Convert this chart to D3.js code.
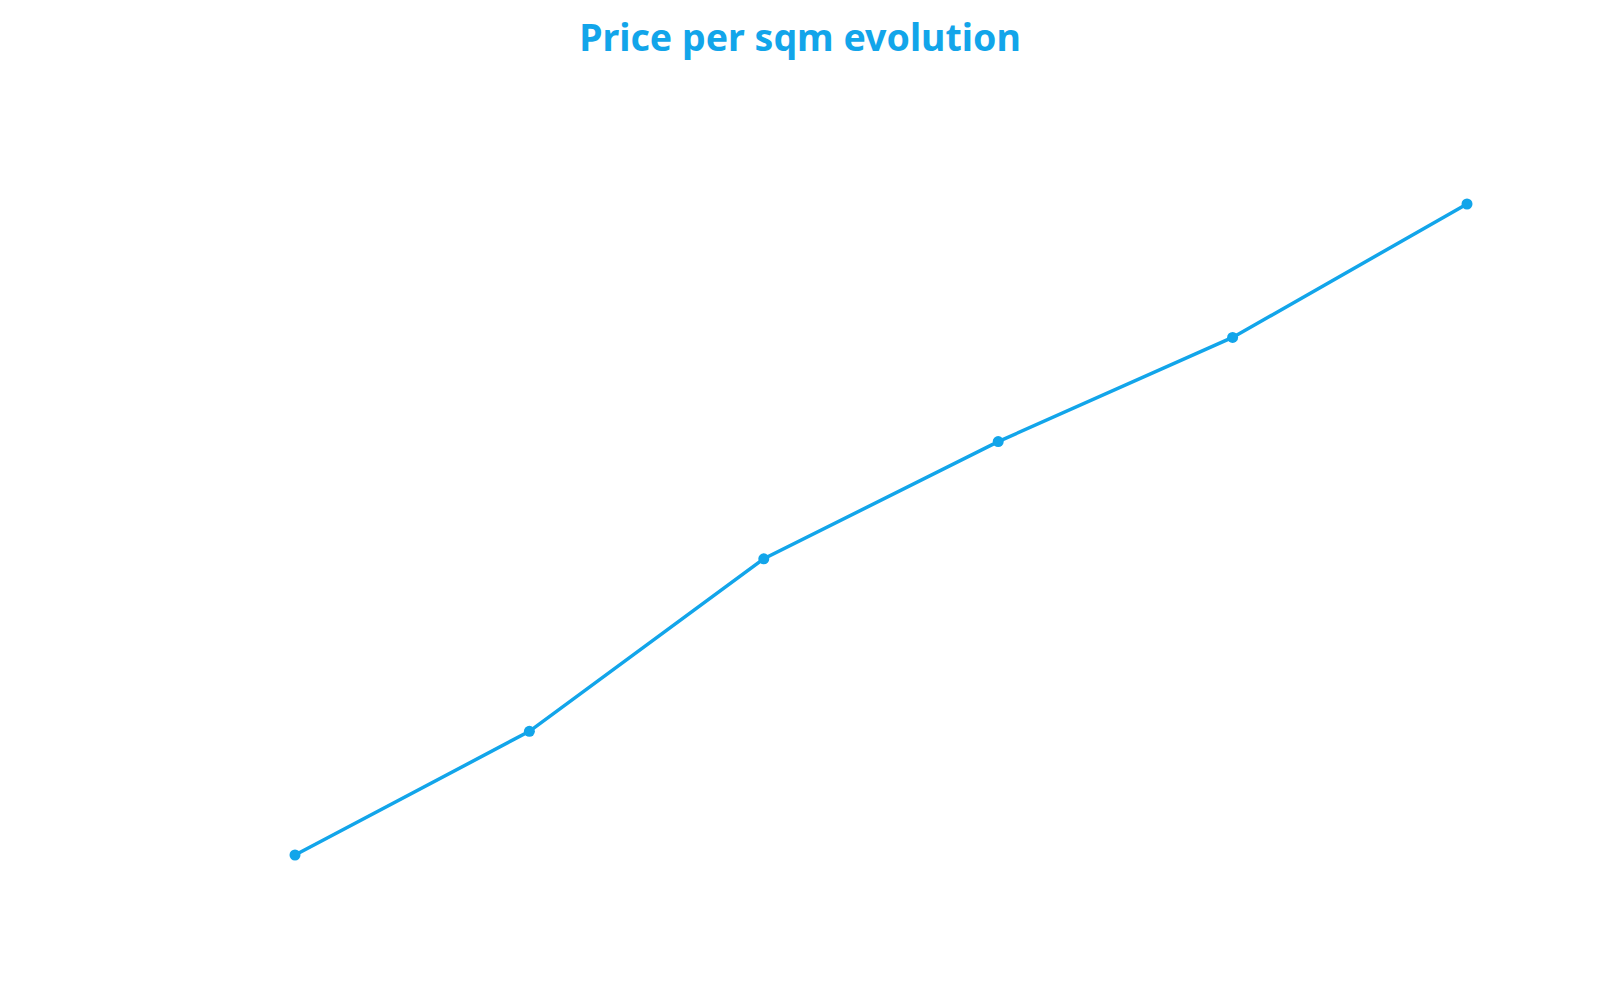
<!DOCTYPE html>
<html>
<head>
<meta charset="utf-8">
<script src="https://cdn.jsdelivr.net/npm/d3@7"></script>
<style>
  html, body { margin: 0; padding: 0; background: #fff; }
</style>
</head>
<body>
<div id="chart"></div>
<script>
'use strict';

/** Data */
const years = ["2016", "2017", "2018", "2019", "2020", "2021"];
const pricePerSqm = [1450, 1640, 1905, 2085, 2245, 2450];

/** Dimensions */
const w = 1600;
const h = 1000;
const margin = { top: 204, right: 133, bottom: 145, left: 295 };
const color = "#12a5ea";

const svg = d3.select("#chart")
    .append("svg")
    .attr("width", w)
    .attr("height", h);

/* Title */
svg.append("text")
    .attr("x", w / 2)
    .attr("y", 51)
    .attr("text-anchor", "middle")
    .style("font-family", "'Noto Sans', 'Open Sans', sans-serif")
    .style("font-weight", "bold")
    .style("font-size", "37.5px")
    .style("fill", color)
    .text("Price per sqm evolution");

/* Scales */
const xScale = d3.scalePoint()
    .domain(years)
    .range([margin.left, w - margin.right]);

const yScale = d3.scaleLinear()
    .domain([d3.min(pricePerSqm), d3.max(pricePerSqm)])
    .range([h - margin.bottom, margin.top]);

const points = years.map((y, i) => ({ year: y, value: pricePerSqm[i] }));

/* Line */
const line = d3.line()
    .x(d => xScale(d.year))
    .y(d => yScale(d.value));

svg.append("path")
    .datum(points)
    .attr("fill", "none")
    .attr("stroke", color)
    .attr("stroke-width", 3.5)
    .attr("d", line);

/* Dots */
svg.selectAll("circle")
    .data(points)
    .enter()
    .append("circle")
    .attr("cx", d => xScale(d.year))
    .attr("cy", d => yScale(d.value))
    .attr("r", 5.5)
    .attr("fill", color);
</script>
</body>
</html>
